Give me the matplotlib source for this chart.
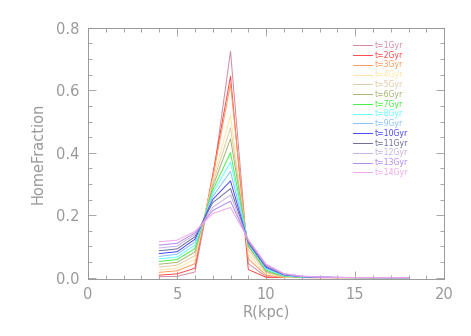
import matplotlib.pyplot as plt
from matplotlib.ticker import MultipleLocator

radius = [4, 5, 6, 7, 8, 9, 10, 11, 12, 13, 14, 15, 16, 17, 18]

labels = ["t=%dGyr" % i for i in range(1, 15)]

colors = ["#d08a9e", "#ff4a4a", "#ff9a5a", "#ffe6a6", "#e2c9a8", "#a6b472",
          "#44f044", "#66ffff", "#86c2ff", "#4646ff", "#6c6c98", "#c4b2e2",
          "#b286f0", "#f0a6f0"]

frac = [
    [0.003, 0.004, 0.018, 0.31, 0.725, 0.045, 0.003, 0.0005, 0.0002, 0.0, 0.0, 0.0, 0.0, 0.0, 0.0],
    [0.008, 0.012, 0.030, 0.33, 0.645, 0.026, 0.001, 0.0005, 0.0002, 0.0, 0.0, 0.0, 0.0, 0.0, 0.0],
    [0.017, 0.022, 0.045, 0.32, 0.620, 0.060, 0.008, 0.001, 0.0005, 0.0002, 0.0, 0.0, 0.0, 0.0, 0.0],
    [0.025, 0.030, 0.058, 0.31, 0.520, 0.075, 0.012, 0.002, 0.0008, 0.0003, 0.0001, 0.0, 0.0, 0.0, 0.0],
    [0.034, 0.040, 0.070, 0.30, 0.480, 0.090, 0.016, 0.003, 0.001, 0.0004, 0.0002, 0.0001, 0.0, 0.0, 0.0],
    [0.043, 0.049, 0.082, 0.29, 0.445, 0.100, 0.020, 0.004, 0.0013, 0.0005, 0.0002, 0.0001, 0.0, 0.0, 0.0],
    [0.052, 0.058, 0.093, 0.28, 0.400, 0.105, 0.024, 0.005, 0.0016, 0.0006, 0.0003, 0.0001, 0.0, 0.0, 0.0],
    [0.060, 0.066, 0.104, 0.27, 0.370, 0.110, 0.027, 0.006, 0.002, 0.0008, 0.0003, 0.0001, 0.0001, 0.0, 0.0],
    [0.068, 0.075, 0.114, 0.26, 0.340, 0.110, 0.030, 0.008, 0.0025, 0.001, 0.0004, 0.0002, 0.0001, 0.0, 0.0],
    [0.077, 0.083, 0.123, 0.25, 0.310, 0.112, 0.033, 0.009, 0.003, 0.0012, 0.0005, 0.0002, 0.0001, 0.0, 0.0],
    [0.086, 0.092, 0.131, 0.24, 0.285, 0.115, 0.036, 0.010, 0.0035, 0.0014, 0.0006, 0.0003, 0.0001, 0.0001, 0.0],
    [0.095, 0.101, 0.138, 0.225, 0.265, 0.118, 0.039, 0.011, 0.004, 0.0016, 0.0007, 0.0003, 0.0002, 0.0001, 0.0],
    [0.104, 0.110, 0.143, 0.215, 0.245, 0.120, 0.041, 0.012, 0.0045, 0.0018, 0.0008, 0.0004, 0.0002, 0.0001, 0.0],
    [0.115, 0.120, 0.148, 0.205, 0.225, 0.122, 0.043, 0.013, 0.005, 0.002, 0.0009, 0.0004, 0.0002, 0.0001, 0.0],
]

plt.rcParams["font.family"] = ["DejaVu Sans"]
grey = "#999999"

fig = plt.figure(figsize=(4.71, 3.36), dpi=100)
ax = fig.add_axes([0.187, 0.170, 0.756, 0.747])

for ys, c, lab in zip(frac, colors, labels):
    ax.plot(radius, ys, color=c, lw=0.7, label=lab)

ax.set_xlim(0, 20)
ax.set_ylim(-0.004, 0.8)
ax.xaxis.set_major_locator(MultipleLocator(5))
ax.xaxis.set_minor_locator(MultipleLocator(1))
ax.yaxis.set_major_locator(MultipleLocator(0.2))
ax.yaxis.set_minor_locator(MultipleLocator(0.05))
ax.yaxis.set_major_formatter(plt.FuncFormatter(lambda v, p: "%.1f" % v))

ax.tick_params(which="both", direction="in", top=True, right=True,
               colors=grey, labelcolor=grey, width=0.6, labelsize=10.5)
ax.tick_params(which="major", length=6, pad=6)
ax.tick_params(which="minor", length=3)
for s in ax.spines.values():
    s.set_color(grey)
    s.set_linewidth(0.7)

ax.set_xlabel("R(kpc)", color=grey, fontsize=10.5, labelpad=2)
ax.set_ylabel("HomeFraction", color=grey, fontsize=10.5, labelpad=8)

leg = ax.legend(loc="upper left", frameon=False, fontsize=5.6, handlelength=2.4,
                handletextpad=0.4, labelspacing=0.1, borderaxespad=0.0,
                borderpad=0.0, bbox_to_anchor=(0.745, 0.948))
for txt, c in zip(leg.get_texts(), colors):
    txt.set_color(c)

fig.savefig("out.png", dpi=100)
